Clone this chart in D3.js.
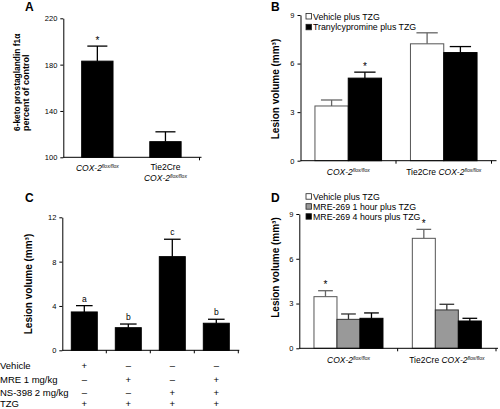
<!DOCTYPE html>
<html><head><meta charset="utf-8">
<script src="https://cdn.jsdelivr.net/npm/d3@7"></script>
<style>body{margin:0;background:#fff} text{font-family:"Liberation Sans",Arial,sans-serif}</style>
</head><body>
<svg id="c" width="500" height="409"></svg>
<script>
// ---- Panel A ----
const aCategories = ["COX-2", "Tie2Cre COX-2"];
const aMeans = [183, 113.5];
const aSem = [13, 8.5];
const aSig = ["*", ""];
const aTicks = [100, 140, 180, 220];
// ---- Panel B ----
const bCategories = ["COX-2", "Tie2Cre COX-2"];
const bSeries = ["Vehicle plus TZG", "Tranylcypromine plus TZG"];
const bVehicle = [3.38, 7.22];
const bVehicleSem = [0.37, 0.68];
const bTranyl = [5.10, 6.68];
const bTranylSem = [0.37, 0.37];
const bVehicleSig = ["", ""];
const bTranylSig = ["*", ""];
const bTicks = [0, 3, 6, 9];
// ---- Panel C ----
const cCategories = ["g1", "g2", "g3", "g4"];
const cMeans = [3.46, 2.04, 8.45, 2.44];
const cSem = [0.57, 0.33, 1.57, 0.36];
const cLetters = ["a", "b", "c", "b"];
const cTicks = [0, 4, 8, 12];
const cRowLabels = ["Vehicle", "MRE 1 mg/kg", "NS-398 2 mg/kg", "TZG"];
const cRowVehicle = ["+", "–", "–", "–"];
const cRowMre = ["–", "+", "–", "+"];
const cRowNs = ["–", "–", "+", "+"];
const cRowTzg = ["+", "+", "+", "+"];
// ---- Panel D ----
const dCategories = ["COX-2", "Tie2Cre COX-2"];
const dSeries = ["Vehicle plus TZG", "MRE-269 1 hour plus TZG", "MRE-269 4 hours plus TZG"];
const dVehicle = [3.46, 7.37];
const dVehicleSem = [0.40, 0.60];
const dMre1 = [1.94, 2.57];
const dMre1Sem = [0.36, 0.38];
const dMre4 = [2.01, 1.83];
const dMre4Sem = [0.36, 0.18];
const dVehicleSig = ["*", "*"];
const dTicks = [0, 3, 6, 9];

const svg = d3.select("#c");
svg.append("rect").attr("width", 500).attr("height", 409).attr("fill", "#fff");

const STYLE = {
  black: {fill: "#000", stroke: "#000", err: "#000"},
  white: {fill: "#fff", stroke: "#555", err: "#666"},
  gray:  {fill: "#999", stroke: "#333", err: "#333"}
};

function yAxis(g, y, ticks, x0) {
  const ax = g.append("g").attr("transform", `translate(${x0},0)`)
    .call(d3.axisLeft(y).tickValues(ticks).tickSize(3).tickSizeOuter(0).tickPadding(3).tickFormat(d3.format("d")));
  ax.selectAll("text").attr("font-size", 7.5).attr("fill", "#000").attr("font-family", "Liberation Sans, Arial");
  ax.selectAll("line,path").attr("stroke", "#000");
}
function xAxis(g, x, y0, ext, midTicks) {
  const r = x.range();
  g.append("line").attr("x1", r[0]).attr("x2", r[1] + ext).attr("y1", y0).attr("y2", y0).attr("stroke", "#000");
  x.domain().forEach((c, i) => {
    if (!midTicks && i < x.domain().length - 1) return;
    const bx = x(c) + x.bandwidth();
    g.append("line").attr("x1", bx).attr("x2", bx).attr("y1", y0).attr("y2", y0 + 3).attr("stroke", "#000");
  });
}
function bar(g, cx, w, y, mean, sem, st, sig, sigSize) {
  const y0 = y.range()[0];
  const top = y(mean), et = y(mean + sem);
  g.append("line").attr("x1", cx).attr("x2", cx).attr("y1", top).attr("y2", et).attr("stroke", st.err).attr("stroke-width", 1.3);
  g.append("line").attr("x1", cx - w * 0.32).attr("x2", cx + w * 0.32).attr("y1", et).attr("y2", et).attr("stroke", st.err).attr("stroke-width", 1.3);
  g.append("rect").attr("x", cx - w / 2).attr("y", top).attr("width", w).attr("height", y0 - top)
    .attr("fill", st.fill).attr("stroke", st.stroke).attr("stroke-width", 1);
  if (sig) {
    g.append("text").attr("x", cx).attr("y", et - (sig === "*" ? 2.5 : 4)).attr("text-anchor", "middle")
      .attr("font-size", sigSize || 10).text(sig);
  }
}
function gene(g, x, y, prefix, anchor) {
  const t = g.append("text").attr("x", x).attr("y", y).attr("text-anchor", anchor || "middle").attr("font-size", 8.5);
  if (prefix) t.append("tspan").text(prefix + " ");
  t.append("tspan").attr("font-style", "italic").text("COX-2");
  t.append("tspan").attr("font-style", "italic").attr("font-size", 5).attr("dy", -3).text("flox/flox");
  return t;
}
function ytitle(g, x, y, txt, size, anchor) {
  g.append("text").attr("transform", `translate(${x},${y}) rotate(-90)`).attr("text-anchor", anchor || "middle")
    .attr("font-size", size).attr("font-weight", "bold").text(txt);
}
function plabel(x, y, t) {
  svg.append("text").attr("x", x).attr("y", y).attr("font-size", 12).attr("font-weight", "bold").text(t);
}
function legend(g, x, y, items, styles, step) {
  items.forEach((s, i) => {
    const yy = y + i * step;
    g.append("rect").attr("x", x).attr("y", yy - 3).attr("width", 5.5).attr("height", 5.5)
      .attr("fill", styles[i].fill).attr("stroke", "#222").attr("stroke-width", 0.8);
    g.append("text").attr("x", x + 7).attr("y", yy + 3).attr("font-size", 8.8).text(s);
  });
}

// ================= Panel A =================
{
  const g = svg.append("g");
  const y = d3.scaleLinear().domain([100, 220]).range([157.3, 18.3]);
  const x = d3.scaleBand().domain(aCategories).range([63.3, 199.5]);
  aCategories.forEach((c, i) => {
    bar(g, x(c) + x.bandwidth() / 2, x.bandwidth() * 0.46, y, aMeans[i], aSem[i], STYLE.black, aSig[i]);
  });
  yAxis(g, y, aTicks, 63.3);
  xAxis(g, x, 157.3, 2, false);
  gene(g, x(aCategories[0]) + x.bandwidth() / 2, 171, "");
  g.append("text").attr("x", x(aCategories[1]) + x.bandwidth() / 2).attr("y", 169.5).attr("text-anchor", "middle").attr("font-size", 8.5).text("Tie2Cre");
  gene(g, x(aCategories[1]) + x.bandwidth() / 2, 180.5, "");
  g.append("text").attr("transform", "translate(19.5,131) rotate(-90)").attr("font-size", 8.4).attr("font-weight", "bold").text("6-keto prostaglandin f1α");
  g.append("text").attr("transform", "translate(29,131) rotate(-90)").attr("font-size", 9).attr("font-weight", "bold").text("percent of control");
  plabel(25, 11, "A");
}

// ================= Panel B =================
{
  const g = svg.append("g");
  const y = d3.scaleLinear().domain([0, 9]).range([160.7, 15]);
  const x = d3.scaleBand().domain(bCategories).range([300.5, 491.5]);
  const bw = 33.3;
  const x1 = d3.scaleBand().domain(bSeries).range([-bw, bw]);
  const vals = [bVehicle, bTranyl], sems = [bVehicleSem, bTranylSem], sigs = [bVehicleSig, bTranylSig];
  const sts = [STYLE.white, STYLE.black];
  bCategories.forEach((c, i) => {
    const cx = x(c) + x.bandwidth() / 2;
    bSeries.forEach((s, j) => {
      bar(g, cx + x1(s) + x1.bandwidth() / 2, x1.bandwidth(), y, vals[j][i], sems[j][i], sts[j], sigs[j][i]);
    });
  });
  yAxis(g, y, bTicks, 300.5);
  xAxis(g, x, 160.7, 5, true);
  bCategories.forEach((c, i) => gene(g, x(c) + x.bandwidth() / 2, 174.5, i ? "Tie2Cre" : ""));
  ytitle(g, 279, 89, "Lesion volume (mm³)", 10);
  legend(g, 306, 16.5, bSeries, sts, 10.8);
  plabel(271, 11, "B");
}

// ================= Panel C =================
{
  const g = svg.append("g");
  const y = d3.scaleLinear().domain([0, 12]).range([350.3, 217.3]);
  const x = d3.scaleBand().domain(cCategories).range([62.3, 238.3]);
  cCategories.forEach((c, i) => {
    bar(g, x(c) + x.bandwidth() / 2, x.bandwidth() * 0.59, y, cMeans[i], cSem[i], STYLE.black, cLetters[i], 8.5);
  });
  yAxis(g, y, cTicks, 62.3);
  xAxis(g, x, 350.3, 1, true);
  ytitle(g, 31.5, 284, "Lesion volume (mm³)", 10);
  const rows = [cRowVehicle, cRowMre, cRowNs, cRowTzg];
  const rowY = [368.7, 383, 395.5, 407];
  cRowLabels.forEach((l, r) => {
    g.append("text").attr("x", 0).attr("y", rowY[r]).attr("font-size", 9.5).text(l);
    cCategories.forEach((c, i) => {
      g.append("text").attr("x", x(c) + x.bandwidth() / 2).attr("y", rowY[r]).attr("text-anchor", "middle")
        .attr("font-size", 9.5).text(rows[r][i]);
    });
  });
  plabel(25, 202, "C");
}

// ================= Panel D =================
{
  const g = svg.append("g");
  const y = d3.scaleLinear().domain([0, 9]).range([348.3, 214]);
  const x = d3.scaleBand().domain(dCategories).range([299.3, 496]);
  const bw = 23;
  const x1 = d3.scaleBand().domain(dSeries).range([-1.5 * bw, 1.5 * bw]);
  const vals = [dVehicle, dMre1, dMre4], sems = [dVehicleSem, dMre1Sem, dMre4Sem], sigs = [dVehicleSig, ["", ""], ["", ""]];
  const sts = [STYLE.white, STYLE.gray, STYLE.black];
  dCategories.forEach((c, i) => {
    const cx = x(c) + x.bandwidth() / 2;
    dSeries.forEach((s, j) => {
      bar(g, cx + x1(s) + x1.bandwidth() / 2, x1.bandwidth(), y, vals[j][i], sems[j][i], sts[j], sigs[j][i]);
    });
  });
  yAxis(g, y, dTicks, 299.3);
  xAxis(g, x, 348.3, 2, true);
  dCategories.forEach((c, i) => gene(g, x(c) + x.bandwidth() / 2, 363, i ? "Tie2Cre" : ""));
  ytitle(g, 278.5, 267.5, "Lesion volume (mm³)", 10);
  legend(g, 306, 196.7, dSeries, sts, 10);
  plabel(271, 202, "D");
}
</script>
</body></html>
